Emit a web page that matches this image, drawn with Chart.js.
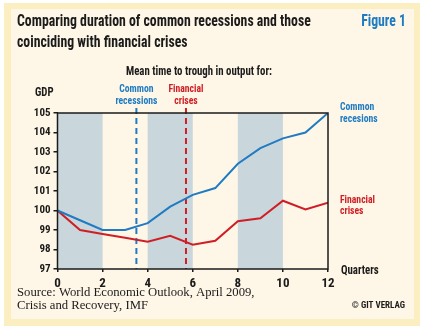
<!DOCTYPE html>
<html>
<head>
<meta charset="utf-8">
<script src="https://cdn.jsdelivr.net/npm/chart.js@4"></script>
<style>
  html, body { margin: 0; padding: 0; background: #fff; }
  #wrap { width: 425px; height: 332px; position: relative; }
</style>
</head>
<body>
<div id="wrap"><canvas id="gdpChart" width="425" height="332"></canvas></div>
<script>
// quarters after the peak
const quarters = [0, 1, 2, 3, 4, 5, 6, 7, 8, 9, 10, 11, 12];
const commonRecessions = [100, 99.5, 99.0, 99.0, 99.35, 100.2, 100.8, 101.15, 102.4, 103.2, 103.7, 104.0, 105.0];
const financialCrises = [100, 99.0, 98.8, 98.6, 98.4, 98.7, 98.25, 98.45, 99.45, 99.6, 100.5, 100.05, 100.4];
// shaded quarter bands and mean time to trough
const bands = [[0, 2], [4, 6], [8, 10]];
const troughCommon = 3.5;
const troughFinancial = 5.7;

const BLUE = '#1f7bc2';
const RED = '#cf1f26';
const DARK = '#1b1b1b';
const NARROW = '"Liberation Sans Narrow", "Roboto Condensed", "Liberation Sans", sans-serif';

// squeezed text, the heading face is narrower than Liberation Sans Narrow
function txt(c, s, x, y, align, sx) {
  c.save();
  c.translate(x, y);
  c.scale(sx, 1);
  c.textAlign = align;
  c.fillText(s, 0, 0);
  c.restore();
}

const decor = {
  id: 'decor',
  beforeDraw(chart) {
    const c = chart.ctx;
    c.save();
    c.fillStyle = '#fbefc2';
    c.fillRect(4, 3, 416, 323);
    c.fillStyle = '#fef6e6';
    c.fillRect(11, 9, 403, 310);
    c.restore();
  },
  beforeDatasetsDraw(chart) {
    const c = chart.ctx;
    const a = chart.chartArea;
    const x = chart.scales.x;
    c.save();
    c.fillStyle = '#c9d6dc';
    bands.forEach(([s, e]) => {
      const x0 = x.getPixelForValue(s), x1 = x.getPixelForValue(e);
      c.fillRect(x0, a.top, x1 - x0, a.bottom - a.top);
    });
    c.lineWidth = 2;
    c.setLineDash([6, 4]);
    [[troughCommon, BLUE], [troughFinancial, RED]].forEach(([q, col]) => {
      const px = x.getPixelForValue(q);
      c.strokeStyle = col;
      c.beginPath();
      c.moveTo(px, a.top - 5);
      c.lineTo(px, a.bottom);
      c.stroke();
    });
    c.restore();
  },
  afterDraw(chart) {
    const c = chart.ctx;
    const a = chart.chartArea;
    const x = chart.scales.x;
    const y = chart.scales.y;
    c.save();
    // frame around the plot
    c.strokeStyle = DARK;
    c.lineWidth = 1.5;
    c.strokeRect(a.left, a.top, a.right - a.left, a.bottom - a.top);

    c.textBaseline = 'middle';
    c.fillStyle = DARK;
    c.font = 'bold 16px ' + NARROW;
    txt(c, 'Comparing duration of common recessions and those', 17, 22, 'left', 0.86);
    txt(c, 'coinciding with financial crises', 17, 43, 'left', 0.86);
    c.fillStyle = BLUE;
    txt(c, 'Figure 1', 406, 22, 'right', 0.86);

    c.fillStyle = DARK;
    c.font = 'bold 12px ' + NARROW;
    txt(c, 'Mean time to trough in output for:', 199, 72, 'center', 0.9);
    txt(c, 'GDP', 35, 93, 'left', 0.9);
    txt(c, 'Quarters', 341, y.getPixelForValue(97) + 2, 'left', 0.9);

    c.font = 'bold 11px ' + NARROW;
    c.fillStyle = BLUE;
    const bx = x.getPixelForValue(troughCommon);
    txt(c, 'Common', bx, 89, 'center', 0.88);
    txt(c, 'recessions', bx, 101, 'center', 0.88);
    c.fillStyle = RED;
    const rx = x.getPixelForValue(troughFinancial);
    txt(c, 'Financial', rx, 89, 'center', 0.88);
    txt(c, 'crises', rx, 101, 'center', 0.88);

    c.fillStyle = BLUE;
    txt(c, 'Common', 340, 107, 'left', 0.88);
    txt(c, 'recesions', 340, 119, 'left', 0.88);
    c.fillStyle = RED;
    txt(c, 'Financial', 340, 200, 'left', 0.88);
    txt(c, 'crises', 340, 211, 'left', 0.88);

    c.fillStyle = DARK;
    c.font = '12.7px "Liberation Serif", serif';
    txt(c, 'Source: World Economic Outlook, April 2009,', 17, 293, 'left', 1);
    txt(c, 'Crisis and Recovery, IMF', 17, 306, 'left', 1);
    c.font = 'bold 9px ' + NARROW;
    txt(c, '\u00A9 GIT VERLAG', 405, 306, 'right', 1);
    c.restore();
  }
};

new Chart(document.getElementById('gdpChart').getContext('2d'), {
  type: 'line',
  data: {
    labels: quarters,
    datasets: [{
      label: 'Common recessions',
      data: commonRecessions,
      borderColor: BLUE,
      borderWidth: 2,
      pointRadius: 0,
      tension: 0
    }, {
      label: 'Financial crises',
      data: financialCrises,
      borderColor: RED,
      borderWidth: 2,
      pointRadius: 0,
      tension: 0
    }]
  },
  options: {
    responsive: false,
    animation: false,
    layout: { padding: { left: 20, top: 113, right: 97, bottom: 43 } },
    plugins: { legend: { display: false }, tooltip: { enabled: false } },
    scales: {
      x: {
        type: 'linear',
        min: 0,
        max: 12,
        afterFit: s => { s.height = 20; },
        grid: { display: true, drawOnChartArea: false, drawTicks: true, tickLength: 3, color: DARK, lineWidth: 1.5 },
        border: { display: false },
        ticks: { stepSize: 2, padding: 4, color: DARK, font: { family: NARROW, size: 13, weight: 'bold' } }
      },
      y: {
        min: 97,
        max: 105,
        afterFit: s => { s.width = 37.5; },
        grid: { display: true, drawOnChartArea: false, drawTicks: true, tickLength: 4, color: DARK, lineWidth: 1.5 },
        border: { display: false },
        ticks: { stepSize: 1, padding: 3, color: DARK, font: { family: NARROW, size: 11, weight: 'bold' } }
      }
    }
  },
  plugins: [decor]
});
</script>
</body>
</html>
